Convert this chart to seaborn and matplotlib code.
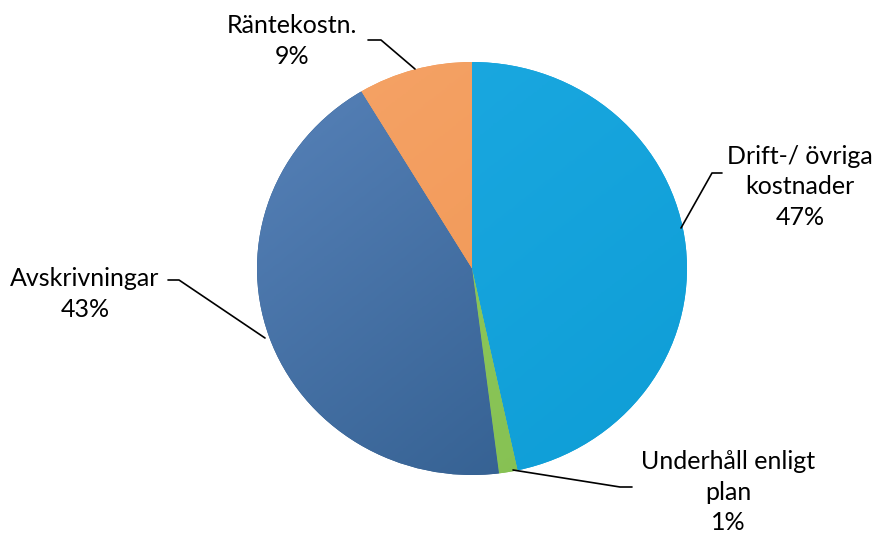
import numpy as np
import matplotlib
matplotlib.use("Agg")
import matplotlib.pyplot as plt
import seaborn as sns
from matplotlib.colors import LinearSegmentedColormap

# ---- data ----
categories = ["Drift-/ övriga\nkostnader", "Underhåll enligt\nplan", "Avskrivningar", "Räntekostn."]
values = [46.6, 1.4, 43.4, 8.6]
pct_labels = ["47%", "1%", "43%", "9%"]
colors_top = ["#1DAAE2", "#93CD63", "#5883BA", "#F5A468"]
colors_bot = ["#0E9DD6", "#84BF50", "#2E5A8A", "#F0934F"]

sns.set_theme(style="white")
plt.rcParams["font.family"] = ["Lato", "DejaVu Sans"]

W, H = 875, 533
CX, CY, RX, RY = 472.0, 268.5, 215.0, 206.5

fig = plt.figure(figsize=(W / 100, H / 100), dpi=100)
ax = fig.add_axes([0, 0, 1, 1])


def px(x, y):
    return ((x - CX) / RX, (CY - y) / RY)


wedges, _ = ax.pie(values, startangle=90, counterclock=False,
                   colors=colors_bot, radius=1.0, center=(0, 0),
                   wedgeprops=dict(linewidth=0))
ax.set_aspect("auto")
ax.axis("off")

# gradient fills clipped to each wedge
gy, gx = np.mgrid[0:1:200j, 0:1:200j]
grad = np.clip(0.55 * gy + 0.45 * gx, 0, 1)
for w, ct, cb in zip(wedges, colors_top, colors_bot):
    cmap = LinearSegmentedColormap.from_list("g", [ct, cb])
    im = ax.imshow(grad, cmap=cmap, extent=(-1.02, 1.02, -1.02, 1.02),
                   origin="upper", aspect="auto", zorder=w.get_zorder() + 0.1,
                   interpolation="bilinear")
    im.set_clip_path(w)
ax.set_xlim(px(0, 0)[0], px(W, 0)[0])
ax.set_ylim(px(0, H)[1], px(0, 0)[1])

fs = 18
# label text positions (image pixels) and leader lines
label_pos = [(800, 187), (728, 492), (85, 294), (292, 41)]
leaders = [
    [(722, 173), (712, 173), (681, 228)],
    [(632, 487), (620, 487), (513, 470)],
    [(168, 280), (179, 280), (265, 338)],
    [(368, 40), (381, 40), (415, 69)],
]
for cat, pct, (lx, ly), pts in zip(categories, pct_labels, label_pos, leaders):
    x, y = px(lx, ly)
    ax.text(x, y, f"{cat}\n{pct}", ha="center", va="center", fontsize=fs,
            color="black", linespacing=1.38)
    xs, ys = zip(*[px(a, b) for a, b in pts])
    ax.plot(xs, ys, color="black", lw=1.2, zorder=10)

fig.savefig("out.png", dpi=100, facecolor="white")
